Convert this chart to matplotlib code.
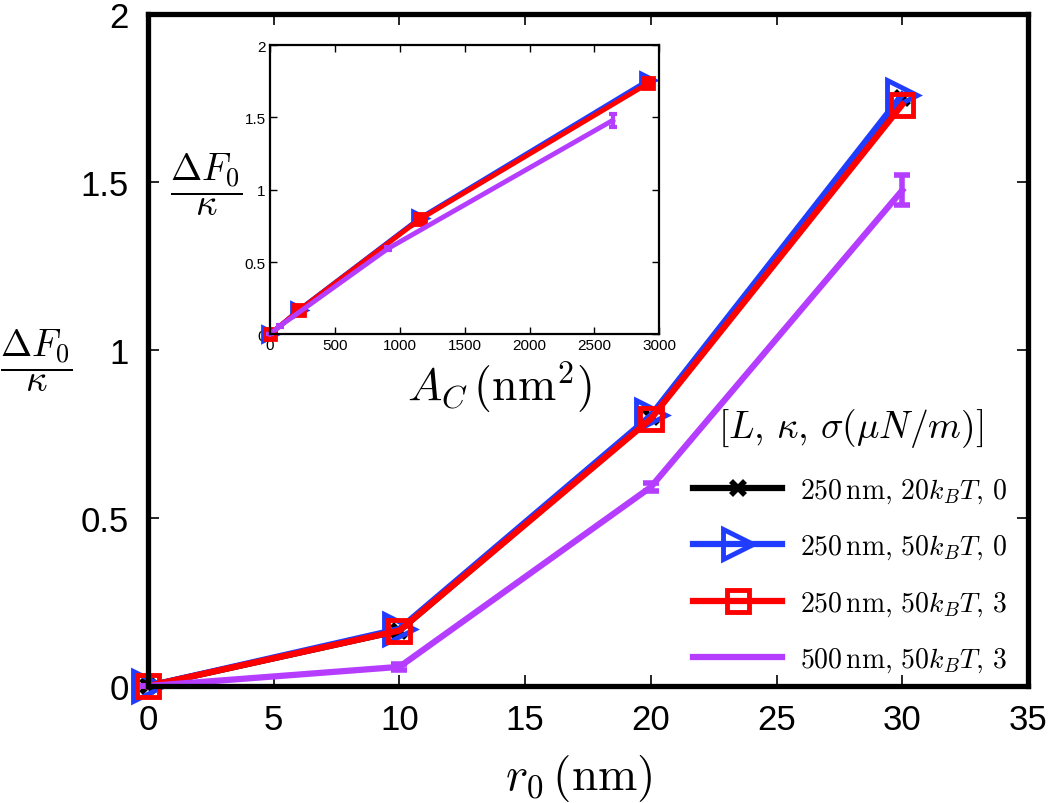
import matplotlib
matplotlib.use('Agg')
import matplotlib.pyplot as plt
import numpy as np

plt.rcParams['font.family'] = ['Liberation Sans', 'DejaVu Sans']
plt.rcParams['mathtext.fontset'] = 'cm'

# ======================= data =======================
r0 = [0, 10, 20, 30]
F_black = [0, 0.165, 0.80, 1.75]
F_blue = [0, 0.170, 0.805, 1.76]
F_red = [0, 0.165, 0.795, 1.73]
F_purple = [0, 0.057, 0.592, 1.475]
err_purple = [0, 0.008, 0.012, 0.045]

A_250 = [0, 223, 1154, 2915]
A_500 = [0, 77, 908, 2640]
Fi_black = [0, 0.165, 0.80, 1.75]
Fi_blue = [0, 0.17, 0.805, 1.76]
Fi_red = [0, 0.165, 0.795, 1.737]
Fi_purple = [0, 0.057, 0.592, 1.48]
erri_purple = [0, 0.008, 0.012, 0.045]

labels = [r'$250\,\mathrm{nm},\,20k_BT,\,0$',
          r'$250\,\mathrm{nm},\,50k_BT,\,0$',
          r'$250\,\mathrm{nm},\,50k_BT,\,3$',
          r'$500\,\mathrm{nm},\,50k_BT,\,3$']
c_blue = '#1f3cff'
c_red = '#ff0000'
c_purp = '#b53dff'
# ====================================================

fig = plt.figure(figsize=(10.5, 8.04), dpi=100)
ax = fig.add_axes([0.141, 0.1455, 0.838, 0.836])

ax.plot(r0, F_black, color='k', lw=4.5, marker='x', ms=10, mew=4, label=labels[0], clip_on=False)
ax.plot(r0, F_blue, color=c_blue, lw=4.5, marker='>', ms=22, mew=3.5, mfc='none', label=labels[1],
        clip_on=False)
ax.plot(r0, F_red, color=c_red, lw=4.5, marker='s', ms=16, mew=3.5, mfc='none', label=labels[2],
        clip_on=False)
ax.errorbar(r0, F_purple, yerr=err_purple, color=c_purp, lw=4.5, capsize=6, capthick=4,
            elinewidth=4, clip_on=False)
ax.plot([], [], color=c_purp, lw=4.5, label=labels[3])

ax.set_xlim(0, 35)
ax.set_ylim(0, 2)
ax.set_xticks(np.arange(0, 36, 5))
ax.set_yticks([0, 0.5, 1, 1.5, 2])
ax.set_yticklabels(['0', '0.5', '1', '1.5', '2'])
ax.tick_params(direction='in', length=8, width=1.2, labelsize=25, top=True, right=True)
ax.tick_params(axis='x', pad=12)
ax.tick_params(axis='y', pad=14)
for s in ax.spines.values():
    s.set_linewidth(3.8)
ax.set_xlabel(r'$r_0\,(\mathrm{nm})$', fontsize=34)
ax.xaxis.set_label_coords(0.489, -0.098)
ax.set_ylabel(r'$\dfrac{\Delta F_0}{\kappa}$', fontsize=27, rotation=0, va='center', ha='center')
ax.yaxis.set_label_coords(-0.127, 0.485)

leg = ax.legend(loc='upper right', bbox_to_anchor=(0.977, 0.417), frameon=False, fontsize=20,
                handlelength=3.2, labelspacing=1.0, handletextpad=0.65, borderpad=0,
                borderaxespad=0,
                title=r'$[L,\,\kappa,\,\sigma(\mu N/m)]$', title_fontsize=27)

# ======================= inset =======================
ax2 = fig.add_axes([0.257, 0.583, 0.371, 0.3595])
ax2.plot(A_250, Fi_black, color='k', lw=3, marker='x', ms=6, mew=2.5, clip_on=False)
ax2.plot(A_250, Fi_blue, color=c_blue, lw=3, marker='>', ms=12, mew=2, mfc=c_blue, clip_on=False)
ax2.plot(A_250, Fi_red, color=c_red, lw=3.5, marker='s', ms=8, mew=2, mfc=c_red, clip_on=False)
ax2.errorbar(A_500, Fi_purple, yerr=erri_purple, color=c_purp, lw=3.5, capsize=3, capthick=3,
             elinewidth=3, clip_on=False)
ax2.set_xlim(0, 3000)
ax2.set_ylim(0, 2)
ax2.set_xticks(np.arange(0, 3001, 500))
ax2.set_yticks([0, 0.5, 1, 1.5, 2])
ax2.set_yticklabels(['0', '0.5', '1', '1.5', '2'])
ax2.tick_params(direction='in', length=5, width=1, labelsize=11, top=True, right=True, pad=3)
for s in ax2.spines.values():
    s.set_linewidth(1.6)
ax2.set_xlabel(r'$A_C\,(\mathrm{nm}^2)$', fontsize=33, va='center')
ax2.xaxis.set_label_coords(0.59, -0.18)
ax2.set_ylabel(r'$\dfrac{\Delta F_0}{\kappa}$', fontsize=27, rotation=0, va='center', ha='center')
ax2.yaxis.set_label_coords(-0.162, 0.52)

fig.savefig('out.png', dpi=100)
